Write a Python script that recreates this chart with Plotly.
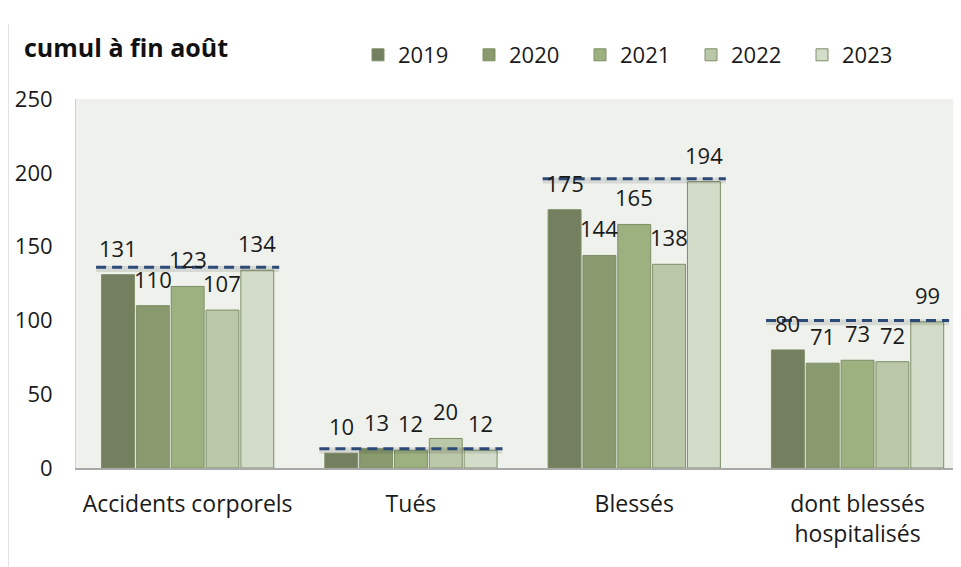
import plotly.graph_objects as go

categories = ["Accidents corporels", "Tués", "Blessés", "dont blessés<br>hospitalisés"]
years = ["2019", "2020", "2021", "2022", "2023"]
v2019 = [131, 10, 175, 80]
v2020 = [110, 13, 144, 71]
v2021 = [123, 12, 165, 73]
v2022 = [107, 20, 138, 72]
v2023 = [134, 12, 194, 99]
targets = [136, 13, 196, 100]
yticks = [0, 50, 100, 150, 200, 250]

series = [v2019, v2020, v2021, v2022, v2023]
colors = ["#737f5f", "#899a6e", "#9db080", "#bac7a9", "#d3dcc8"]
FONT = "Open Sans"
BARGAP = 0.22
xpos = list(range(len(categories)))

fig = go.Figure()
for yr, vals, col in zip(years, series, colors):
    fig.add_trace(go.Bar(
        x=xpos, y=vals, name=yr,
        marker=dict(color=col, line=dict(color="#7e8f67", width=1)),
    ))

# target dashed lines
for i, t in enumerate(targets):
    fig.add_trace(go.Scatter(
        x=[i - 0.41, i + 0.41], y=[t - 1.2, t - 1.2], mode="lines",
        line=dict(color="rgba(0,0,0,0.10)", width=6), showlegend=False, hoverinfo="skip"))
    fig.add_trace(go.Scatter(
        x=[i - 0.41, i + 0.41], y=[t, t], mode="lines",
        line=dict(color="#2c4a78", width=3, dash="10px,6px"),
        showlegend=False, hoverinfo="skip"))

annotations = []
slot = (1 - BARGAP) / len(years)
for j, vals in enumerate(series):
    for i, v in enumerate(vals):
        annotations.append(dict(
            x=i + (j - (len(years) - 1) / 2) * slot, y=v, xref="x", yref="y",
            text=str(v), showarrow=False, yanchor="middle", yshift=27,
            font=dict(family=FONT, size=22, color="#1a1a1a")))

annotations.append(dict(
    text="<b>cumul à fin août</b>", xref="paper", yref="paper",
    x=(22 - 76) / 885, y=1 + (99 - 47) / 369, xanchor="left", yanchor="middle",
    showarrow=False, font=dict(family=FONT, size=25, color="#111111")))

fig.update_layout(
    width=953, height=559,
    margin=dict(l=68, r=0, t=91, b=99, autoexpand=False),
    paper_bgcolor="white",
    plot_bgcolor="#eff1ec",
    barmode="group", bargap=BARGAP, bargroupgap=0.055,
    font=dict(family=FONT, size=22, color="#1a1a1a"),
    legend=dict(orientation="h", x=(358 - 76) / 885, y=1 + (99 - 55) / 369,
                xanchor="left", yanchor="middle", itemwidth=30,
                font=dict(family=FONT, size=22), bgcolor="rgba(0,0,0,0)",
                traceorder="normal", entrywidth=66),
    xaxis=dict(range=[-0.5, -0.5 + 885 / 223.3], tickvals=xpos, ticktext=categories,
               showgrid=False, zeroline=False, showline=True, linecolor="#a9a9a9",
               linewidth=2, ticks="", ticklabelstandoff=14,
               tickfont=dict(family=FONT, size=23)),
    yaxis=dict(range=[0, 250], tickvals=yticks, showgrid=False, zeroline=False,
               showline=True, linecolor="#d0d0d0", linewidth=1, ticks="",
               ticklabelstandoff=18, tickfont=dict(family=FONT, size=22), automargin=False),
    annotations=annotations,
    shapes=[dict(type="line", xref="paper", yref="paper",
                 x0=(8 - 76) / 885, x1=(8 - 76) / 885, y0=-99 / 369, y1=1 + 75 / 369,
                 line=dict(color="#c8c8c8", width=1))],
)
fig.write_html("out.html")
